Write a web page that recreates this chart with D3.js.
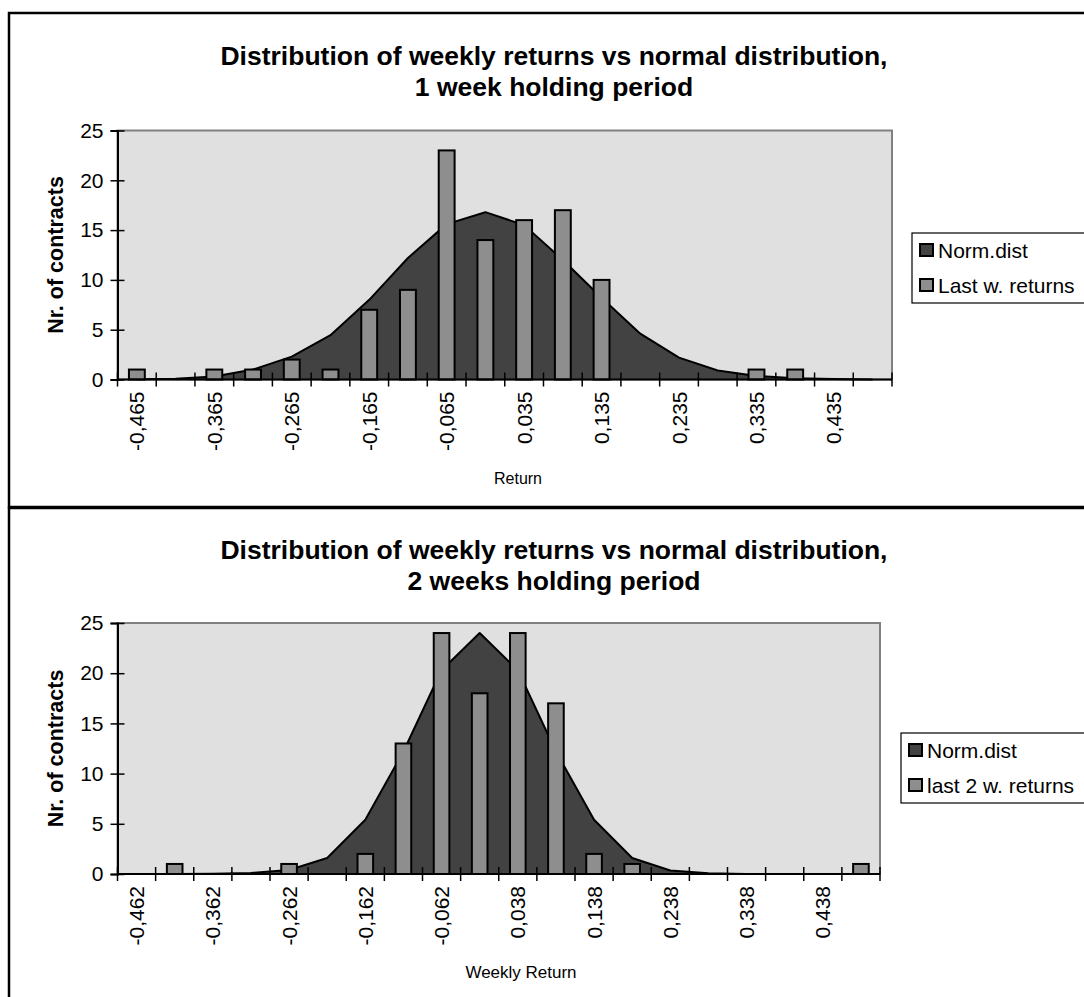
<!DOCTYPE html>
<html>
<head>
<meta charset="utf-8">
<script src="https://cdn.jsdelivr.net/npm/d3@7"></script>
<style>
  html, body { margin: 0; padding: 0; background: #ffffff; }
  svg { display: block; }
  text { font-family: "Liberation Sans", Arial, Helvetica, sans-serif; fill: #000; }
</style>
</head>
<body>
<svg id="chart" width="1084" height="997"></svg>
<script>
// ---- data -------------------------------------------------------------
const categoriesTop = ["-0,465","-0,415","-0,365","-0,315","-0,265","-0,215","-0,165","-0,115","-0,065","-0,015",
                       "0,035","0,085","0,135","0,185","0,235","0,285","0,335","0,385","0,435","0,485"];
const normalTop  = [0.02, 0.08, 0.3, 1.0, 2.3, 4.45, 8.0, 12.2, 15.6, 16.8,
                    15.5, 12.0, 8.2, 4.6, 2.2, 0.9, 0.35, 0.12, 0.04, 0.01];
const returnsTop = [1, 0, 1, 1, 2, 1, 7, 9, 23, 14, 16, 17, 10, 0, 0, 0, 1, 1, 0, 0];

const categoriesBottom = ["-0,462","-0,412","-0,362","-0,312","-0,262","-0,212","-0,162","-0,112","-0,062","-0,012",
                          "0,038","0,088","0,138","0,188","0,238","0,288","0,338","0,388","0,438","0,488"];
const normalBottom  = [0, 0, 0.02, 0.1, 0.4, 1.6, 5.4, 12.2, 20.3, 24.0,
                       20.3, 12.2, 5.4, 1.6, 0.35, 0.08, 0.01, 0, 0, 0];
const returnsBottom = [0, 1, 0, 0, 1, 0, 2, 13, 24, 18, 24, 17, 2, 1, 0, 0, 0, 0, 0, 1];

const yTickValues = [0, 5, 10, 15, 20, 25];

const titlesTop    = ["Distribution of weekly returns vs normal distribution,", "1 week holding period"];
const titlesBottom = ["Distribution of weekly returns vs normal distribution,", "2 weeks holding period"];
const legendTop    = ["Norm.dist", "Last w. returns"];
const legendBottom = ["Norm.dist", "last 2 w. returns"];

// ---- styling ----------------------------------------------------------
const COLOR_PLOT_BG = "#e0e0e0";
const COLOR_AREA = "#424242";
const COLOR_BAR = "#8e8e8e";
const TICK_FONT = 21;

const svg = d3.select("#chart");

function drawChart(cfg) {
  const g = svg.append("g").attr("transform", `translate(0,${cfg.offsetY})`);
  const { x0, x1, y0, y1 } = cfg.plot;

  const x = d3.scaleBand().domain(cfg.categories).range([x0, x1]).padding(0);
  const y = d3.scaleLinear().domain([0, 25]).range([y1, y0]);

  // plot background with gray frame on top/right
  g.append("rect")
    .attr("x", x0).attr("y", y0)
    .attr("width", x1 - x0).attr("height", y1 - y0)
    .attr("fill", COLOR_PLOT_BG)
    .attr("stroke", "#808080").attr("stroke-width", 2);

  // normal distribution as filled area through category centres
  const pts = cfg.categories.map((c, i) => [x(c) + x.bandwidth() / 2, cfg.normal[i]]);
  const area = d3.area().x(d => d[0]).y0(y(0)).y1(d => y(d[1]));
  const line = d3.line().x(d => d[0]).y(d => y(d[1]));
  g.append("path").attr("d", area(pts)).attr("fill", COLOR_AREA);
  g.append("path").attr("d", line(pts)).attr("fill", "none")
    .attr("stroke", "#000").attr("stroke-width", 2).attr("stroke-linejoin", "round");

  // return histogram bars
  const bw = x.bandwidth() * 0.41;
  const barData = cfg.categories.map((c, i) => ({ c, v: cfg.returns[i] })).filter(d => d.v > 0);
  g.selectAll("rect.bar").data(barData).enter().append("rect")
    .attr("class", "bar")
    .attr("x", d => x(d.c) + (x.bandwidth() - bw) / 2)
    .attr("y", d => y(d.v))
    .attr("width", bw)
    .attr("height", d => y(0) - y(d.v))
    .attr("fill", COLOR_BAR)
    .attr("stroke", "#000").attr("stroke-width", 2);

  // y axis with crossing ticks
  const yAxis = g.append("g").attr("transform", `translate(${x0},0)`)
    .call(d3.axisLeft(y).tickValues(yTickValues).tickSize(7).tickPadding(7));
  yAxis.select(".domain").attr("stroke", "#000").attr("stroke-width", 2);
  yAxis.selectAll(".tick line").attr("stroke", "#000").attr("stroke-width", 1.5);
  yAxis.selectAll(".tick").append("line").attr("x2", 7).attr("stroke", "#000").attr("stroke-width", 1.5);
  yAxis.selectAll("text").attr("font-size", TICK_FONT).attr("font-family", "Liberation Sans, Arial, sans-serif");

  // x axis: ticks on category boundaries, labels on every other category
  const xAxis = g.append("g").attr("transform", `translate(0,${y1})`);
  xAxis.append("line").attr("x1", x0).attr("x2", x1).attr("stroke", "#000").attr("stroke-width", 2);
  const bounds = cfg.categories.map(c => x(c)).concat([x1]);
  xAxis.selectAll("line.tk").data(bounds).enter().append("line")
    .attr("class", "tk")
    .attr("x1", d => d).attr("x2", d => d)
    .attr("y1", -7).attr("y2", 7)
    .attr("stroke", "#000").attr("stroke-width", 1.5);
  const labelled = cfg.categories.filter((c, i) => i % 2 === 0);
  xAxis.selectAll("text.lbl").data(labelled).enter().append("text")
    .attr("class", "lbl")
    .attr("transform", d => `translate(${x(d) + x.bandwidth() / 2 + 7.5},12) rotate(-90)`)
    .attr("text-anchor", "end")
    .attr("font-size", TICK_FONT)
    .text(d => d);

  // titles
  g.append("text").attr("x", 554).attr("y", 65).attr("text-anchor", "middle")
    .attr("font-size", 26.5).attr("font-weight", "bold").text(cfg.titles[0]);
  g.append("text").attr("x", 554).attr("y", 96).attr("text-anchor", "middle")
    .attr("font-size", 26.5).attr("font-weight", "bold").text(cfg.titles[1]);

  g.append("text")
    .attr("transform", `translate(63,${(y0 + y1) / 2}) rotate(-90)`)
    .attr("text-anchor", "middle").attr("font-size", 21.5).attr("font-weight", "bold")
    .text("Nr. of contracts");

  g.append("text").attr("x", cfg.xTitleX).attr("y", 484).attr("text-anchor", "middle")
    .attr("font-size", cfg.xTitleSize).text(cfg.xTitle);

  // legend
  const lg = g.append("g").attr("transform", `translate(${cfg.legend.x},${cfg.legend.y})`);
  lg.append("rect").attr("x", 0).attr("y", 0).attr("width", 200).attr("height", 70)
    .attr("fill", "#fff").attr("stroke", "#000").attr("stroke-width", 1.2);
  const swatches = [COLOR_AREA, COLOR_BAR];
  cfg.legendLabels.forEach((t, i) => {
    lg.append("rect").attr("x", 8).attr("y", 11 + i * 35).attr("width", 13).attr("height", 12)
      .attr("fill", swatches[i]).attr("stroke", "#000").attr("stroke-width", 2);
    lg.append("text").attr("x", 26).attr("y", 25 + i * 35).attr("font-size", 21).text(t);
  });

  // chart frame
  g.append("rect").attr("x", 9).attr("y", cfg.frameTop).attr("width", 1100).attr("height", 494)
    .attr("fill", "none").attr("stroke", "#000").attr("stroke-width", 2.5);
}

drawChart({
  offsetY: 0, frameTop: 13,
  plot: { x0: 117.5, x1: 892, y0: 130.5, y1: 379.5 },
  categories: categoriesTop, normal: normalTop, returns: returnsTop,
  titles: titlesTop, xTitle: "Return", xTitleX: 518, xTitleSize: 16,
  legend: { x: 912, y: 233 }, legendLabels: legendTop
});

drawChart({
  offsetY: 494, frameTop: 14,
  plot: { x0: 117.5, x1: 880, y0: 129, y1: 380 },
  categories: categoriesBottom, normal: normalBottom, returns: returnsBottom,
  titles: titlesBottom, xTitle: "Weekly Return", xTitleX: 521, xTitleSize: 17,
  legend: { x: 901, y: 239 }, legendLabels: legendBottom
});
</script>
</body>
</html>
